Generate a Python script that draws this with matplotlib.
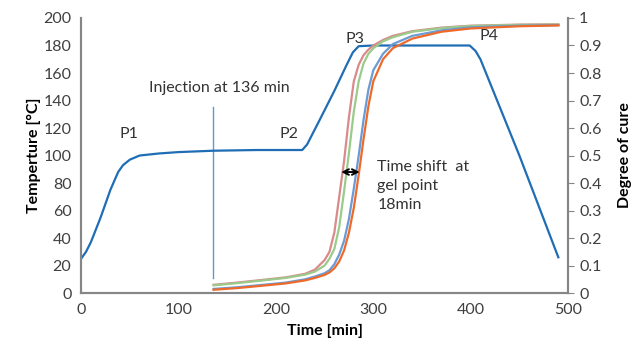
import matplotlib.pyplot as plt

plt.rcParams['font.family'] = ['Lato', 'DejaVu Sans']

# temperature profile
temp_time = [0, 5, 10, 20, 30, 38, 43, 50, 60, 80, 100, 136, 180, 227, 232, 245, 260, 272, 279, 285, 300, 350, 399, 405, 410, 450, 490]
temp_vals = [25, 30, 37, 55, 75, 88, 93, 97, 100, 101.5, 102.5, 103.5, 104, 104, 108, 126, 147, 165, 175, 179.5, 180, 180, 180, 176, 170, 100, 26]

# degree of cure curves (four runs)
cure_time = [136, 160, 184, 210, 230, 240, 250, 255, 260, 265, 270, 275, 280, 285, 290, 295, 300, 310, 320, 340, 370, 400, 450, 490]
cure_pink = [0.030, 0.038, 0.047, 0.057, 0.070, 0.085, 0.12, 0.15, 0.22, 0.35, 0.48, 0.64, 0.77, 0.83, 0.865, 0.885, 0.90, 0.92, 0.935, 0.952, 0.965, 0.972, 0.976, 0.977]
cure_green = [0.028, 0.036, 0.045, 0.055, 0.067, 0.078, 0.10, 0.125, 0.16, 0.24, 0.37, 0.51, 0.66, 0.77, 0.835, 0.87, 0.89, 0.915, 0.93, 0.95, 0.963, 0.971, 0.975, 0.976]
cure_blue = [0.015, 0.021, 0.029, 0.038, 0.050, 0.060, 0.072, 0.083, 0.105, 0.14, 0.19, 0.27, 0.38, 0.50, 0.63, 0.74, 0.81, 0.87, 0.905, 0.935, 0.955, 0.966, 0.972, 0.974]
cure_orange = [0.012, 0.018, 0.026, 0.035, 0.046, 0.055, 0.066, 0.075, 0.09, 0.115, 0.155, 0.22, 0.31, 0.43, 0.56, 0.68, 0.77, 0.85, 0.89, 0.925, 0.95, 0.962, 0.970, 0.973]

injection_time = 135
# gel point arrow, in time and degree of cure
arrow_from, arrow_to, arrow_cure = 267, 286, 0.44

gray = '#868686'
txt = '#333333'
fs = 11.5

fig = plt.figure(figsize=(6.34, 3.46), dpi=100)
ax = fig.add_axes([0.128, 0.153, 0.768, 0.795])
ax2 = ax.twinx()

ax.plot(temp_time, temp_vals, color='#1F6EB5', lw=1.6, zorder=3)
ax.plot([injection_time, injection_time], [11, 135], color='#5B9BD5', lw=1)

ax2.plot(cure_time, cure_pink, color='#D98A8A', lw=1.6)
ax2.plot(cure_time, cure_green, color='#9BCB8A', lw=1.6)
ax2.plot(cure_time, cure_blue, color='#6A9BD6', lw=1.6)
ax2.plot(cure_time, cure_orange, color='#EE6A2A', lw=1.6)

ax.set_xlim(0, 500)
ax.set_ylim(0, 200)
ax2.set_ylim(0, 1)
ax.set_xticks([0, 100, 200, 300, 400, 500])
ax.set_yticks(range(0, 201, 20))
ax2.set_yticks([0, 0.1, 0.2, 0.3, 0.4, 0.5, 0.6, 0.7, 0.8, 0.9, 1])
ax2.set_yticklabels(['0', '0.1', '0.2', '0.3', '0.4', '0.5', '0.6', '0.7', '0.8', '0.9', '1'])

for a in (ax, ax2):
    a.spines['top'].set_visible(False)
    for s in ('left', 'right', 'bottom'):
        a.spines[s].set_color(gray)
        a.spines[s].set_linewidth(1.5)
ax.tick_params(axis='both', length=0, labelsize=fs, colors='#404040', pad=7)
ax2.tick_params(axis='y', length=4, color=gray, labelsize=fs, colors='#404040', pad=4)
ax2.tick_params(axis='y', color=gray)

ax.set_xlabel('Time [min]', fontsize=fs, fontweight='bold', labelpad=5)
ax.set_ylabel('Temperture [°C]', fontsize=fs, fontweight='bold', labelpad=2)
ax2.set_ylabel('Degree of cure', fontsize=fs, fontweight='bold', labelpad=12)

ax.text(142, 149, 'Injection at 136 min', fontsize=fs, ha='center', va='center', color=txt)
ax.text(49, 116, 'P1', fontsize=fs, ha='center', va='center', color=txt)
ax.text(213, 116, 'P2', fontsize=fs, ha='center', va='center', color=txt)
ax.text(281, 185, 'P3', fontsize=fs, ha='center', va='center', color=txt)
ax.text(419, 187, 'P4', fontsize=fs, ha='center', va='center', color=txt)
ax.text(304, 97, 'Time shift  at\ngel point\n18min', fontsize=fs, ha='left', va='top',
        color=txt, linespacing=1.45)
ax2.annotate('', xy=(arrow_from, arrow_cure), xytext=(arrow_to, arrow_cure),
             arrowprops=dict(arrowstyle='<->', color='black', lw=1.4,
                             mutation_scale=10, shrinkA=0, shrinkB=0), zorder=10)

fig.savefig('out.png', dpi=100)
